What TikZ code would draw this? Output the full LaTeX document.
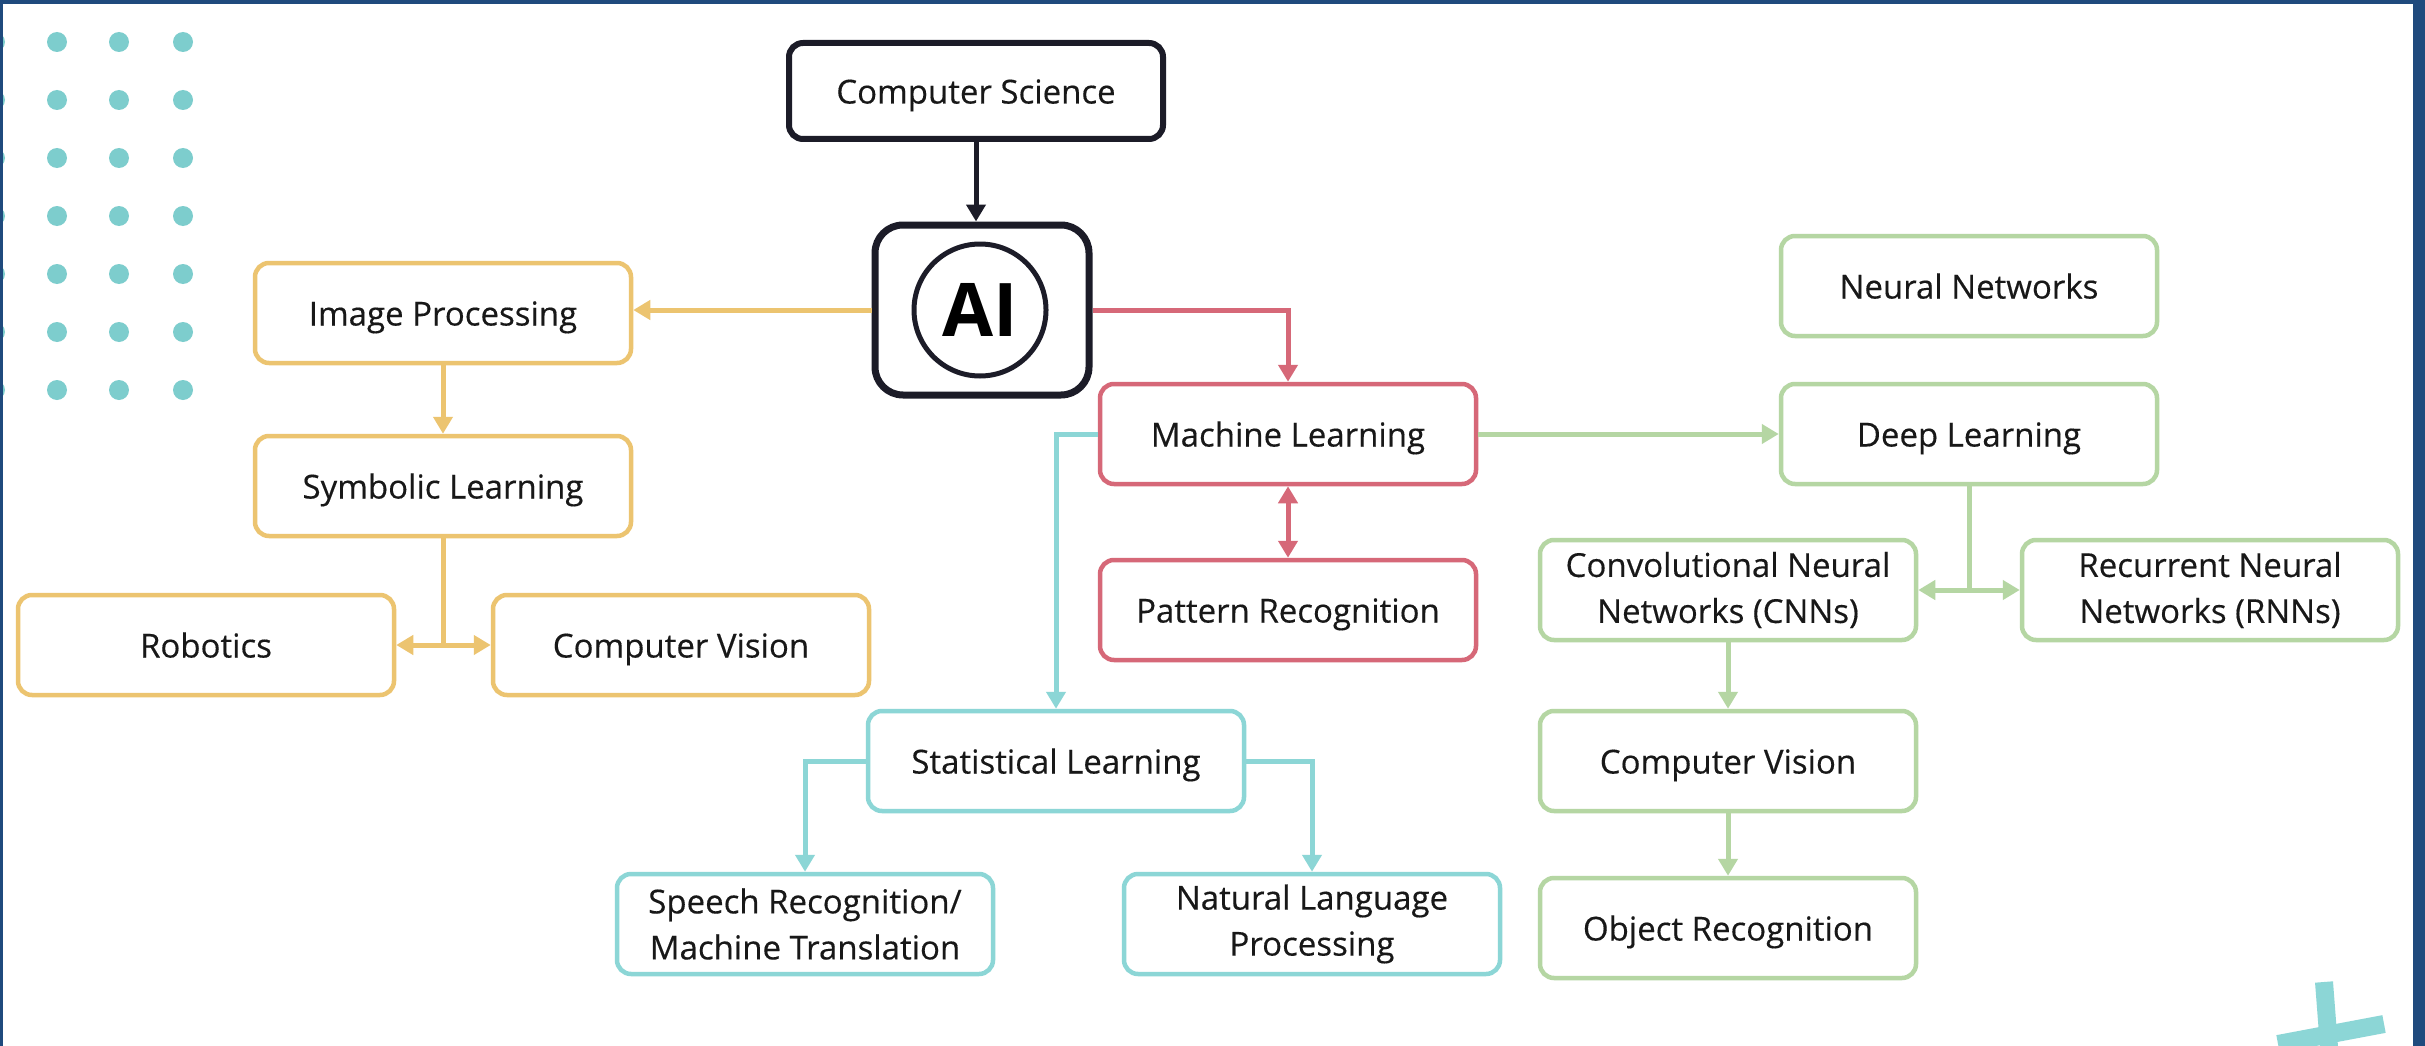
\documentclass[tikz,border=0pt]{standalone}
\usepackage{fontspec}
\setmainfont{Open Sans}
\newfontfamily\nodefont{Open Sans}[FakeBold=0.35]
\usetikzlibrary{arrows.meta}
\definecolor{ylw}{RGB}{236,196,112}
\definecolor{rdc}{RGB}{214,104,120}
\definecolor{tlc}{RGB}{140,214,214}
\definecolor{grc}{RGB}{181,214,163}
\definecolor{blk}{RGB}{28,28,40}
\definecolor{frm}{RGB}{31,74,125}
\definecolor{dotc}{RGB}{125,205,205}
\definecolor{txt}{RGB}{24,24,24}
\tikzset{
  box/.style={draw, line width=4.5pt, rounded corners=14pt, minimum width=376pt,
    minimum height=100pt, fill=white, text=txt, font=\nodefont\fontsize{33}{46}\selectfont,
    align=center, inner sep=0pt},
  one/.style={text height=25pt, text depth=0pt},
  ybox/.style={box, draw=ylw},
  rbox/.style={box, draw=rdc},
  tbox/.style={box, draw=tlc},
  gbox/.style={box, draw=grc},
  tip/.tip={Triangle[length=17pt,width=19pt]},
  conn/.style={line width=5pt, -tip},
  dconn/.style={line width=5pt, tip-tip},
  plain/.style={line width=5pt},
}
\begin{document}
\begin{tikzpicture}[x=1pt,y=-1pt]
\useasboundingbox (0,0) rectangle (2425,1046);
\fill[frm] (0,0) rectangle (2425,1046);
\fill[white] (3,4) rectangle (2413,1046);
\begin{scope}
  \clip (3,4) rectangle (2413,1046);
  \foreach \x in {-5,57,119,183}
    \foreach \y in {42,100,158,216,274,332,390}
      \fill[dotc] (\x,\y) circle (10pt);
  \draw[tlc, line width=18pt] (2324,982) -- (2330,1060);
  \draw[tlc, line width=18pt] (2278,1044) -- (2384,1024);
\end{scope}

% nodes
\node[box, one, draw=blk, line width=6pt, minimum width=374pt, minimum height=96pt] (cs) at (976,91) {Computer Science};
\node[draw=blk, line width=7pt, rounded corners=28pt, minimum width=214pt, minimum height=170pt, fill=white] (ai) at (982,310) {};
\node[circle, draw=blk, line width=5pt, minimum size=132pt, inner sep=0pt, text=black,
  font=\fontsize{74}{74}\bfseries\selectfont] (aic) at (980,310) {AI};

\node[ybox, one] (ip) at (443,313) {Image Processing};
\node[ybox, one] (sym) at (443,486) {Symbolic Learning};
\node[ybox, one] (rob) at (206,645) {Robotics};
\node[ybox, one] (cvy) at (681,645) {Computer Vision};

\node[rbox, one] (ml) at (1288,434) {Machine Learning};
\node[rbox, one] (pr) at (1288,610) {Pattern Recognition};

\node[tbox, one] (sl) at (1056,761) {Statistical Learning};
\node[tbox] (sp) at (805,924) {Speech Recognition/\\Machine Translation};
\node[tbox] (nlp) at (1312,924) {Natural Language\\Processing};

\node[gbox, one] (nn) at (1969,286) {Neural Networks};
\node[gbox, one] (dl) at (1969,434) {Deep Learning};
\node[gbox] (cnn) at (1728,590) {Convolutional Neural\\Networks (CNNs)};
\node[gbox] (rnn) at (2210,590) {Recurrent Neural\\Networks (RNNs)};
\node[gbox, one] (cvg) at (1728,761) {Computer Vision};
\node[gbox, one] (obj) at (1728,928) {Object Recognition};

% connectors
\draw[conn, blk] (cs.south) -- (cs.south |- ai.north);
\draw[conn, ylw] (ai.west) -- (ai.west -| ip.east);
\draw[conn, ylw] (ip.south) -- (sym.north);
\draw[plain, ylw] (sym.south) -- (sym.south |- rob.east);
\draw[dconn, ylw] (rob.east) -- (cvy.west);
\draw[conn, rdc] (ai.east) -| (ml.north);
\draw[dconn, rdc] (ml.south) -- (pr.north);
\draw[conn, grc] (ml.east) -- (dl.west);
\draw[conn, tlc] (ml.west) -| (sl.north);
\draw[conn, tlc] (sl.west) -| (sp.north);
\draw[conn, tlc] (sl.east) -| (nlp.north);
\draw[plain, grc] (dl.south) -- (dl.south |- cnn.east);
\draw[dconn, grc] (cnn.east) -- (rnn.west);
\draw[conn, grc] (cnn.south) -- (cvg.north);
\draw[conn, grc] (cvg.south) -- (obj.north);
\end{tikzpicture}
\end{document}
